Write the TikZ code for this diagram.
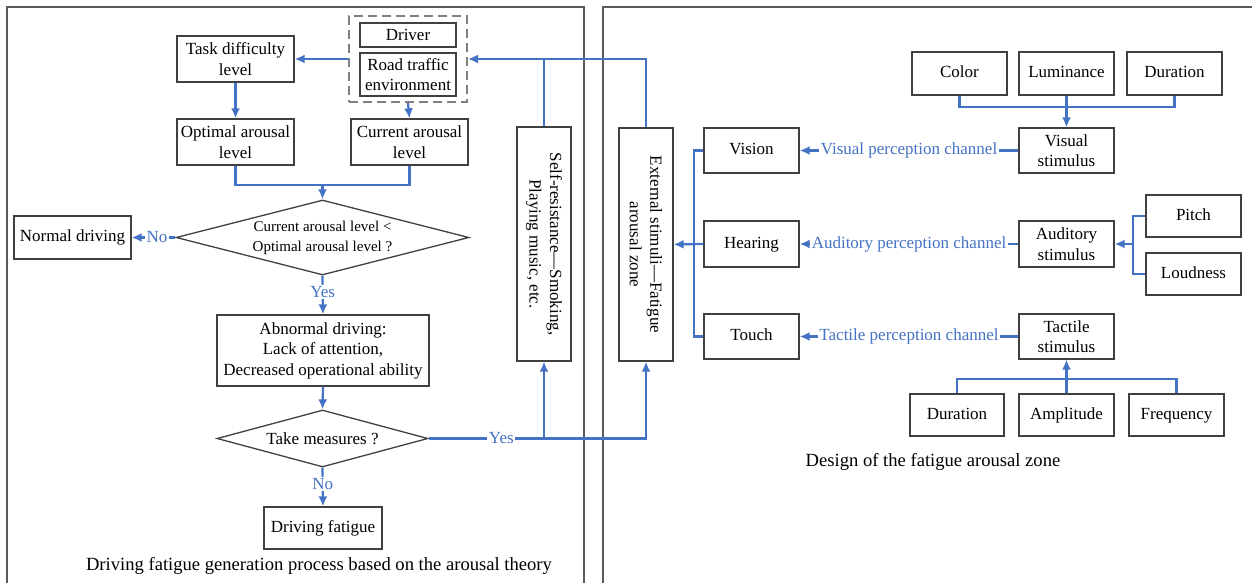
\documentclass[tikz,border=0pt]{standalone}
\usepackage{fontspec}
\setmainfont{Liberation Serif}
\usetikzlibrary{arrows.meta,shapes.geometric}

\definecolor{linkblue}{HTML}{4472C4}
\definecolor{boxgray}{HTML}{404040}
\definecolor{framegray}{HTML}{5A5A5A}
\definecolor{dashgray}{HTML}{808080}

\newcommand{\boxfont}{\fontsize{17}{20.5}\selectfont}
\newcommand{\smallboxfont}{\fontsize{15}{20}\selectfont}
\newcommand{\capfont}{\fontsize{18.6}{22}\selectfont}

\begin{document}
\begin{tikzpicture}[x=1pt, y=-1pt,
  box/.style={draw=boxgray, line width=1.3pt, fill=white, align=center, inner sep=2pt,
    font=\boxfont, minimum width=95pt, minimum height=45pt},
  oneline/.style={box, text height=11.5pt, text depth=3.5pt},
  decision/.style={diamond, aspect=3.8, draw=boxgray, line width=1.3pt, align=center,
    inner sep=0pt, font=\boxfont},
  link/.style={draw=linkblue, line width=2.2pt},
  arr/.style={link, -{Latex[length=10pt, width=9pt]}},
  lbl/.style={fill=white, text=linkblue, font=\boxfont, inner sep=1.5pt},
  frame/.style={draw=framegray, line width=1.2pt},
  vtext/.style={rotate=-90, align=center, font=\boxfont}]

  \useasboundingbox (0,0) rectangle (1252,583);
  \clip (0,0) rectangle (1252,583);

  % Panel frames
  \draw[frame] (7,7) rectangle (584,600);
  \draw[frame] (603,7) rectangle (1270,600);

  % Left panel: driver and road environment
  \node[draw=dashgray, dash pattern=on 9pt off 5pt, line width=2pt,
    minimum width=118pt, minimum height=86pt] (envgrp) at (408,59) {};
  \node[box, minimum width=96pt, minimum height=24pt] (driver) at (408,35) {Driver};
  \node[box, minimum width=96pt, minimum height=43pt] (road) at (408,74.5) {Road traffic\\environment};

  % Arousal levels
  \node[box, minimum width=117pt, minimum height=46pt] (task) at (235.5,59) {Task difficulty\\level};
  \node[box, minimum width=117pt, minimum height=46pt] (optimal) at (235.5,142) {Optimal arousal\\level};
  \node[box, minimum width=117pt, minimum height=46pt] (current) at (409.5,142) {Current arousal\\level};

  % Decisions and outcomes
  \node[decision, font=\smallboxfont, minimum width=293pt, minimum height=75pt] (compare) at (322.5,237.5)
    {Current arousal level <\\Optimal arousal level ?};
  \node[oneline, minimum width=117pt, minimum height=43pt] (normal) at (72.5,237.5) {Normal driving};
  \node[box, minimum width=212pt, minimum height=71pt] (abnormal) at (323,350.5)
    {Abnormal driving:\\Lack of attention,\\Decreased operational ability};
  \node[decision, minimum width=211pt, minimum height=57pt] (measures) at (322.5,438.5) {Take measures ?};
  \node[oneline, minimum width=118pt, minimum height=42pt] (fatigue) at (323,528) {Driving fatigue};

  % Countermeasures
  \node[box, minimum width=54pt, minimum height=234pt,
    label={[vtext]center:{Self-resistance—Smoking,\\Playing music, etc.}}] (resist) at (544,244) {};
  \node[box, minimum width=54pt, minimum height=233pt,
    label={[vtext]center:{External stimuli—Fatigue\\arousal zone}}] (external) at (646,244.5) {};

  \node[font=\capfont] (capleft) at (319,566) {Driving fatigue generation process based on the arousal theory};

  % Left panel connectors
  \draw[arr] (envgrp.west) -- (task.east);
  \draw[arr] (envgrp.south) -- (current.north);
  \draw[arr] (task.south) -- (optimal.north);
  \coordinate (levjoin) at (322.5,185);
  \draw[link] (optimal.south) |- (levjoin) -| (current.south);
  \draw[arr] (levjoin) -- (compare.north);
  \draw[arr] (compare.west) -- node[lbl, pos=0.42] {No} (normal.east);
  \draw[arr] (compare.south) -- node[lbl, pos=0.43] {Yes} (abnormal.north);
  \draw[arr] (abnormal.south) -- (measures.north);
  \draw[arr] (measures.south) -- node[lbl, pos=0.43] {No} (fatigue.north);
  \coordinate (yesjoin) at (resist.south |- measures.east);
  \draw[arr] (measures.east) -- node[lbl, pos=0.63] {Yes} (yesjoin) -| (external.south);
  \draw[arr] (yesjoin) -- (resist.south);
  \draw[arr] (external.north) |- (envgrp.east);
  \draw[link] (resist.north) -- (resist.north |- envgrp.east);

  % Right panel: senses
  \node[oneline] (vision) at (751.5,150.5) {Vision};
  \node[oneline, minimum height=46pt] (hearing) at (751.5,244) {Hearing};
  \node[oneline] (touch) at (751.5,336.5) {Touch};

  % Stimuli
  \node[box] (visstim) at (1066.5,150.5) {Visual\\stimulus};
  \node[box, minimum height=46pt] (audstim) at (1066.5,244) {Auditory\\stimulus};
  \node[box] (tacstim) at (1066.5,336.5) {Tactile\\stimulus};

  % Stimulus properties
  \node[oneline, minimum height=43pt] (color) at (959.5,73.5) {Color};
  \node[oneline, minimum height=43pt] (luminance) at (1066.5,73.5) {Luminance};
  \node[oneline, minimum height=43pt] (visdur) at (1174.5,73.5) {Duration};
  \node[oneline, minimum height=42pt] (pitch) at (1193.5,216) {Pitch};
  \node[oneline, minimum height=42pt] (loudness) at (1193.5,274) {Loudness};
  \node[oneline, minimum width=94pt, minimum height=42pt] (tacdur) at (957,415) {Duration};
  \node[oneline, minimum height=42pt] (amplitude) at (1066.5,415) {Amplitude};
  \node[oneline, minimum height=42pt] (frequency) at (1176.5,415) {Frequency};

  \node[font=\capfont] (capright) at (933,462) {Design of the fatigue arousal zone};

  % Right panel connectors
  \coordinate (visbus) at (1066.5,107);
  \draw[link] (color.south) |- (visbus) -| (visdur.south);
  \draw[arr] (luminance.south) -- (visstim.north);
  \coordinate (audbus) at (1133,244);
  \draw[link] (pitch.west) -| (audbus) |- (loudness.west);
  \draw[arr] (audbus) -- (audstim.east);
  \coordinate (tacbus) at (1066.5,379);
  \draw[link] (tacdur.north) |- (tacbus) -| (frequency.north);
  \draw[arr] (amplitude.north) -- (tacstim.south);

  \draw[arr] (visstim.west) -- node[lbl] {Visual perception channel} (vision.east);
  \draw[arr] (audstim.west) -- node[lbl] {Auditory perception channel} (hearing.east);
  \draw[arr] (tacstim.west) -- node[lbl] {Tactile perception channel} (touch.east);

  \coordinate (sensebus) at (694,244);
  \draw[link] (vision.west) -| (sensebus) |- (touch.west);
  \draw[arr] (hearing.west) -- (external.east);
\end{tikzpicture}
\end{document}
